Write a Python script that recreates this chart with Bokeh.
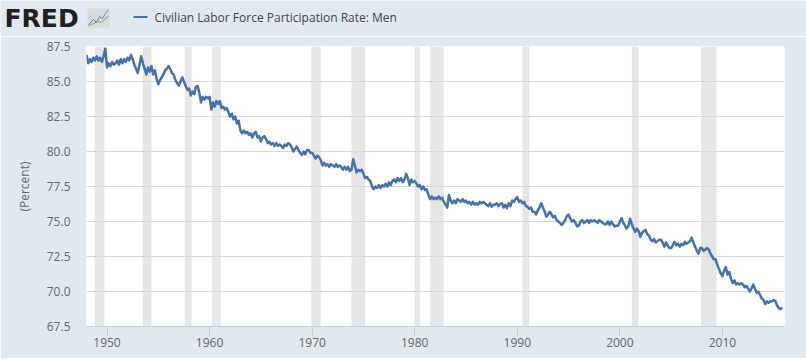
from bokeh.plotting import figure
from bokeh.layouts import column
from bokeh.models import Range1d, FixedTicker, NumeralTickFormatter
from bokeh.core.properties import value
from bokeh.embed import file_html
from bokeh.resources import INLINE

SERIES_NAME = "Civilian Labor Force Participation Rate: Men"
Y_LABEL = "(Percent)"
START_YEAR = 1948
PER_YEAR = 6

rate_1940s = [86.9, 86.3, 86.6, 86.4, 86.7, 86.5,
              86.8, 86.5, 86.7, 86.4, 86.8, 87.35]
rate_1950s = [86.0, 86.3, 86.1, 86.4, 86.2, 86.3,
              86.5, 86.2, 86.6, 86.3, 86.6, 86.4,
              86.7, 86.5, 86.9, 86.6, 86.2, 85.9,
              85.6, 86.2, 86.8, 86.3, 85.9, 85.5,
              86.0, 85.7, 86.1, 85.5, 85.8, 85.2,
              84.8, 85.1, 85.3, 85.5, 85.8, 85.9,
              86.1, 85.9, 85.6, 85.5, 85.1, 84.9,
              84.7, 85.0, 85.3, 85.0, 84.7, 84.4,
              84.5, 84.0, 84.3, 84.1, 84.6, 84.7,
              84.2, 83.5, 83.9, 83.7, 83.9, 83.8]
rate_1960s = [83.9, 83.0, 83.5, 83.2, 83.6, 83.4,
              83.6, 83.1, 83.2, 83.0, 83.1, 82.8,
              82.5, 82.7, 82.3, 82.5, 82.0, 82.2,
              81.5, 81.3, 81.5, 81.3, 81.4, 81.2,
              81.3, 81.0, 81.3, 81.4, 81.0, 81.1,
              80.7, 81.0, 81.1, 80.9, 80.6, 80.7,
              80.5, 80.6, 80.4, 80.6, 80.4, 80.5,
              80.4, 80.25, 80.5, 80.4, 80.6, 80.5,
              80.3, 80.0, 80.2, 80.35, 80.1, 79.9,
              79.75, 80.0, 79.8, 80.1, 80.1, 79.9]
rate_1970s = [79.9, 79.7, 79.5, 79.7, 79.6, 79.4,
              79.0, 79.2, 79.0, 79.1, 78.9, 79.1,
              79.0, 78.9, 79.1, 78.9, 79.0, 78.9,
              78.7, 78.9, 78.7, 78.9, 78.6, 78.7,
              79.45, 79.0, 78.5, 78.7, 78.6, 78.7,
              78.4, 78.1, 78.2, 78.0, 77.9, 77.5,
              77.3, 77.5, 77.4, 77.6, 77.4, 77.6,
              77.5, 77.7, 77.5, 77.8, 77.6, 77.9,
              78.0, 77.8, 78.1, 77.9, 78.1, 77.8,
              78.0, 78.4, 78.1, 77.6, 78.0, 77.8]
rate_1980s = [77.9, 77.7, 77.5, 77.6, 77.3, 77.5,
              77.25, 77.3, 76.9, 76.6, 76.8, 76.6,
              76.7, 76.6, 76.8, 76.6, 76.7, 76.4,
              76.2, 76.0, 76.9, 76.5, 76.3, 76.5,
              76.3, 76.6, 76.5, 76.4, 76.6, 76.4,
              76.5, 76.3, 76.4, 76.2, 76.4, 76.2,
              76.3, 76.2, 76.4, 76.3, 76.4, 76.3,
              76.2, 76.1, 76.3, 76.05, 76.2, 76.2,
              76.3, 76.1, 76.25, 76.3, 76.0, 76.2,
              75.95, 76.3, 76.1, 76.5, 76.4, 76.6]
rate_1990s = [76.75, 76.4, 76.5, 76.3, 76.4, 76.1,
              76.05, 75.9, 76.0, 75.7, 75.7, 75.5,
              75.8, 76.0, 76.3, 76.0, 75.7, 75.35,
              75.5, 75.7, 75.5, 75.3, 75.4, 75.1,
              75.0, 74.9, 74.75, 74.9, 75.1, 75.4,
              75.5, 75.2, 75.0, 75.1, 74.9, 74.65,
              74.7, 75.0, 75.1, 74.9, 75.0, 75.1,
              74.9, 75.1, 75.0, 75.1, 75.0, 74.9,
              75.1, 75.0, 74.9, 74.8, 74.8, 75.0,
              74.75, 75.0, 74.8, 74.65, 74.7, 74.7]
rate_2000s = [75.0, 75.25, 74.9, 74.7, 74.5, 74.7,
              75.2, 74.8, 74.5, 74.25, 74.5, 74.3,
              73.9, 74.2, 74.3, 74.4, 74.1, 74.0,
              73.7, 73.6, 73.75, 73.5, 73.6, 73.7,
              73.7, 73.5, 73.2, 73.5, 73.3, 73.1,
              73.1, 73.3, 73.55, 73.3, 73.4, 73.2,
              73.4, 73.3, 73.55, 73.4, 73.5, 73.6,
              73.85, 73.5, 73.2, 72.9, 72.7, 73.1,
              73.1, 72.9, 73.0, 73.1, 73.0, 72.7,
              72.5, 72.3, 72.3, 71.9, 71.6, 71.3]
rate_2010s = [71.1, 71.5, 71.75, 71.2, 71.4, 70.9,
              70.6, 70.8, 70.5, 70.6, 70.5, 70.6,
              70.5, 70.3, 70.4, 70.2, 70.0, 70.2,
              70.5, 70.2, 69.9, 70.0, 69.75, 69.5,
              69.4, 69.1, 69.3, 69.2, 69.3, 69.3,
              69.4, 69.3, 69.0, 68.8, 68.75, 68.85]

recession_start = [1948.83, 1953.5, 1957.58, 1960.25, 1969.92, 1973.83, 1980.0, 1981.5, 1990.5, 2001.17, 2007.92]
recession_end = [1949.75, 1954.33, 1958.25, 1961.08, 1970.83, 1975.17, 1980.5, 1982.83, 1991.17, 2001.83, 2009.42]

x_ticks = [1950, 1960, 1970, 1980, 1990, 2000, 2010]
y_ticks = [67.5, 70.0, 72.5, 75.0, 77.5, 80.0, 82.5, 85.0, 87.5]

rate = rate_1940s + rate_1950s + rate_1960s + rate_1970s + rate_1980s + rate_1990s + rate_2000s + rate_2010s
years = [START_YEAR + i / PER_YEAR for i in range(len(rate))]

BG = "#e1e9f0"
FONT = "Open Sans"
LINE_COLOR = "#4572a7"


def strip(height):
    """A bare figure without axes, whose data coordinates are the pixels of the strip."""
    f = figure(width=806, height=height, output_backend="svg", toolbar_location=None,
               x_axis_type=None, y_axis_type=None, frame_align=False,
               x_range=Range1d(0, 806), y_range=Range1d(height, 0),
               min_border_left=0, min_border_right=0, min_border_top=0, min_border_bottom=0)
    f.background_fill_color = BG
    f.border_fill_color = BG
    f.outline_line_color = None
    f.xgrid.visible = False
    f.ygrid.visible = False
    return f


# header: logo and legend
head = strip(36)
head.text(x=[4], y=[18], text=["FRED"], text_font=value("DejaVu Sans"), text_font_style="bold",
          text_font_size="25px", text_color="#231f20", text_baseline="middle")
head.quad(left=[87], right=[109], top=[8], bottom=[27], fill_color="#d9dcdd", line_color=None)
head.line([88, 93, 96, 99, 102, 105, 108], [24, 19, 22, 16, 18, 13, 9], line_color="#5b86b5", line_width=1)
head.line([88, 93, 97, 101, 104, 108], [25, 23, 21, 22, 19, 16], line_color="#7fa05a", line_width=1)
head.line([133, 147], [16.5, 16.5], line_color=LINE_COLOR, line_width=2)
head.text(x=[154], y=[17], text=[SERIES_NAME], text_font=value(FONT), text_font_size="12px",
          text_color="#444444", text_baseline="middle")

# main chart
p = figure(width=806, height=322, output_backend="svg", toolbar_location=None, frame_align=False,
           x_range=Range1d(1948.0, 2016.05), y_range=Range1d(67.5, 87.5),
           min_border_left=86, min_border_right=22, min_border_top=10, min_border_bottom=32)
p.background_fill_color = "white"
p.border_fill_color = BG
p.outline_line_color = None

p.quad(left=recession_start, right=recession_end, bottom=67.5, top=87.5,
       fill_color="#e6e6e6", line_color=None, level="image")
p.line(years, rate, line_color=LINE_COLOR, line_width=2.5, line_join="round")

p.xgrid.visible = False
p.ygrid.grid_line_color = "#d8d8d8"
p.ygrid.grid_line_width = 1
p.ygrid.ticker = FixedTicker(ticks=y_ticks)

ax = p.xaxis[0]
ax.ticker = FixedTicker(ticks=x_ticks)
ax.axis_line_color = "#c0d0e0"
ax.major_tick_line_color = "#c0d0e0"
ax.major_tick_in = 0
ax.major_tick_out = 10
ax.minor_tick_line_color = None
ax.major_label_standoff = 1
ax.major_label_text_font = FONT
ax.major_label_text_font_size = "12px"
ax.major_label_text_color = "#666666"

ay = p.yaxis[0]
ay.ticker = FixedTicker(ticks=y_ticks)
ay.formatter = NumeralTickFormatter(format="0.0")
ay.axis_line_color = None
ay.major_tick_line_color = None
ay.minor_tick_line_color = None
ay.major_label_standoff = 10
ay.major_label_text_font = FONT
ay.major_label_text_font_size = "12px"
ay.major_label_text_color = "#666666"
ay.axis_label = Y_LABEL
ay.axis_label_text_font = FONT
ay.axis_label_text_font_size = "12px"
ay.axis_label_text_font_style = "normal"
ay.axis_label_text_color = "#666666"
ay.axis_label_standoff = 11

# footer: top edge of the navigator
foot = strip(3)
foot.quad(left=[86], right=[784], top=[0], bottom=[1], fill_color="#9a9a9a", line_color=None)
foot.quad(left=[100], right=[784], top=[1], bottom=[3], fill_color="#c9d6e6", line_color=None)

page = column(head, p, foot, spacing=0)
open("out.html", "w").write(file_html(page, INLINE))
